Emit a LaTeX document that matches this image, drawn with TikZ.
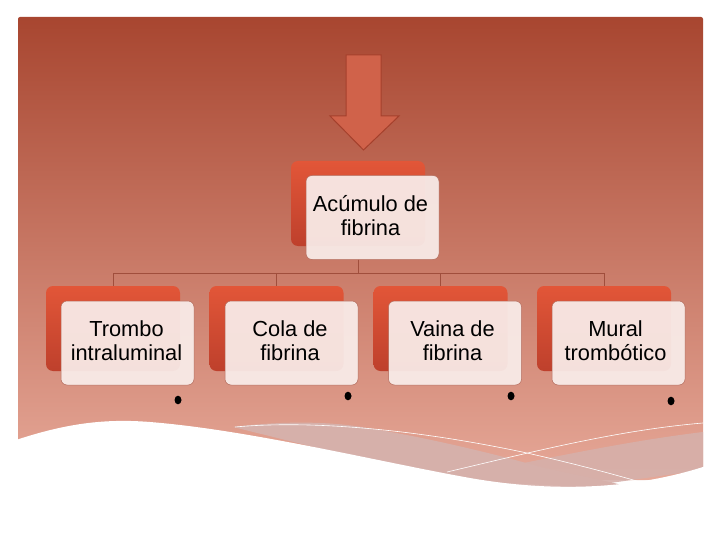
\documentclass[tikz,border=0pt]{standalone}
\usepackage{fontspec}
\usetikzlibrary{shapes.geometric}
\setmainfont{Liberation Sans}
\definecolor{bgtop}{RGB}{168,70,48}
\definecolor{bgbot}{RGB}{230,168,152}
\definecolor{redtop}{RGB}{226,86,56}
\definecolor{redbot}{RGB}{190,64,44}
\definecolor{boxfill}{RGB}{249,237,234}
\definecolor{boxline}{RGB}{178,104,88}
\definecolor{connc}{RGB}{160,78,60}
\definecolor{arrfill}{RGB}{208,98,74}
\definecolor{arrline}{RGB}{165,64,44}
\definecolor{band}{RGB}{214,176,170}
\begin{document}
\begin{tikzpicture}[x=1pt,y=-1pt,
  redbox/.style={rounded corners=7pt, minimum width=134pt, minimum height=85pt, inner sep=0pt,
     top color=redtop, bottom color=redbot, draw=none},
  whitebox/.style={rounded corners=6pt, minimum width=133pt, minimum height=84pt, inner sep=0pt,
     fill=boxfill, fill opacity=0.93, draw=boxline, line width=0.5pt},
  label/.style={align=center, font=\fontsize{21.8}{24}\selectfont, text=black, inner sep=0pt},
  conn/.style={draw=connc, line width=0.6pt},
  dot/.style={ellipse, fill=black, draw=none, inner sep=0pt, minimum width=7pt, minimum height=8.6pt}]
\useasboundingbox (0,0) rectangle (720,540);
\fill[white] (0,0) rectangle (720,540);
% background panel
\shade[top color=bgtop, bottom color=bgbot, rounded corners=2pt] (18,17) rectangle (703,480);
% bands
\fill[band] (233,427) .. controls (280,421) and (330,421) .. (367,428)
  .. controls (420,436) and (500,455) .. (540,467) .. controls (580,476) and (610,481) .. (640,490)
  -- (447,480) -- cycle;
\fill[band, opacity=0.9] (450,478) .. controls (530,462) and (620,442) .. (703,432)
  -- (703,470) -- (560,490) -- cycle;
% white wave
\fill[white] (10,442) .. controls (60,425) and (100,418) .. (150,422)
  .. controls (250,430) and (380,462) .. (470,478)
  .. controls (550,492) and (630,490) .. (703,467)
  -- (720,460) -- (720,540) -- (0,540) -- (0,442) -- cycle;
% white thin lines
\draw[white, line width=0.6pt] (235,427) .. controls (300,421) and (400,426) .. (527,453)
  .. controls (580,465) and (620,476) .. (647,484);
\draw[white, line width=0.6pt] (447,472) .. controls (540,450) and (620,430) .. (703,423);
% arrow
\draw[arrline, fill=arrfill, line width=1pt, line join=miter]
  (346,55) -- (381,55) -- (381,116) -- (399,116) -- (363.5,150) -- (330,116) -- (346,116) -- cycle;
% boxes
\node[redbox] (r0) at (358,203.5) {};
\node[whitebox] (w0) at (372.5,217.5) {};
\node[label] (t0) at (370.5,216) {Acúmulo de\\fibrina};
\node[redbox] (r1) at (113,328.5) {};
\node[redbox] (r2) at (276.5,328.5) {};
\node[redbox] (r3) at (440.5,328.5) {};
\node[redbox] (r4) at (604,328.5) {};
\node[whitebox] (w1) at (127.5,343) {};
\node[whitebox] (w2) at (291.5,343) {};
\node[whitebox] (w3) at (455,343) {};
\node[whitebox] (w4) at (618.5,343) {};
\node[label] (t1) at (126.5,341) {Trombo\\intraluminal};
\node[label] (t2) at (290,341) {Cola de\\fibrina};
\node[label] (t3) at (452.5,341) {Vaina de\\fibrina};
\node[label] (t4) at (615.5,341) {Mural\\trombótico};
% connectors
\coordinate (c0) at (r0.south |- w0.south);
\foreach \i in {1,2,3,4} {
  \draw[conn] (c0) -- ++(0,13.5) -| (r\i.north);
}
% dots
\node[dot] (d1) at (178,400) {};
\node[dot] (d2) at (348,396) {};
\node[dot] (d3) at (511,396) {};
\node[dot] (d4) at (671,401) {};
\end{tikzpicture}
\end{document}
